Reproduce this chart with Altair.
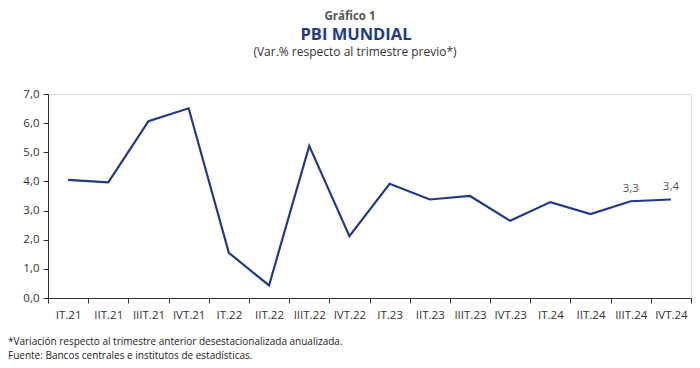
import altair as alt
import pandas as pd

quarters = ["IT.21", "IIT.21", "IIIT.21", "IVT.21", "IT.22", "IIT.22", "IIIT.22", "IVT.22",
            "IT.23", "IIT.23", "IIIT.23", "IVT.23", "IT.24", "IIT.24", "IIIT.24", "IVT.24"]
values = [4.05, 3.97, 6.07, 6.51, 1.55, 0.43, 5.22, 2.12,
          3.92, 3.38, 3.50, 2.65, 3.29, 2.88, 3.32, 3.38]
labels = ["", "", "", "", "", "", "", "", "", "", "", "", "", "", "3,3", "3,4"]
y_ticks = [0, 1, 2, 3, 4, 5, 6, 7]

df = pd.DataFrame({"q": quarters, "v": values, "lab": labels})

FONT = "Open Sans, sans-serif"
BLUE = "#1f3a8a"
W, H = 643, 204

xenc = alt.X("q:N", sort=quarters, title=None,
             scale=alt.Scale(type="band", paddingInner=0, paddingOuter=0),
             axis=alt.Axis(labelAngle=0, tickBand="extent", domainColor="#333333",
                           tickColor="#333333", tickSize=5, labelFontSize=11.5,
                           labelColor="#333333", labelPadding=6, labelFont=FONT,
                           labelOverlap=False))
yenc = alt.Y("v:Q", title=None,
             scale=alt.Scale(domain=[0, 7]),
             axis=alt.Axis(values=y_ticks, grid=False,
                           labelExpr="replace(format(datum.value, '.1f'), '.', ',')",
                           domainColor="#333333", tickColor="#333333", tickSize=5,
                           labelFontSize=11.5, labelColor="#333333", labelPadding=4,
                           labelFont=FONT, labelOverlap=False))

base = alt.Chart(df)
line = base.mark_line(color=BLUE, strokeWidth=2.2).encode(x=xenc, y=yenc)
txt = base.mark_text(dy=-12, fontSize=11.5, color="#555555", font=FONT).encode(
    x=xenc, y=yenc, text="lab:N")

cx = 350 - 48
t1 = alt.Chart(pd.DataFrame({"t": ["Gráfico 1"]})).mark_text(
    fontSize=11.5, fontWeight="bold", color="#555555", font=FONT, baseline="middle").encode(
    x=alt.value(cx), y=alt.value(17 - 94), text="t:N")
t2 = alt.Chart(pd.DataFrame({"t": ["PBI MUNDIAL"]})).mark_text(
    fontSize=16.5, fontWeight="bold", color=BLUE, font=FONT, baseline="middle").encode(
    x=alt.value(cx + 6), y=alt.value(35 - 94), text="t:N")
t3 = alt.Chart(pd.DataFrame({"t": ["(Var.% respecto al trimestre previo*)"]})).mark_text(
    fontSize=12, color="#333333", font=FONT, baseline="middle").encode(
    x=alt.value(cx + 5), y=alt.value(52 - 94), text="t:N")
f1 = alt.Chart(pd.DataFrame({"t": ["*Variación respecto al trimestre anterior desestacionalizada anualizada."]})).mark_text(
    fontSize=10, color="#222222", font=FONT, align="left", baseline="middle").encode(
    x=alt.value(8 - 48), y=alt.value(342 - 94), text="t:N")
f2 = alt.Chart(pd.DataFrame({"t": ["Fuente: Bancos centrales e institutos de estadísticas."]})).mark_text(
    fontSize=10, color="#222222", font=FONT, align="left", baseline="middle").encode(
    x=alt.value(8 - 48), y=alt.value(356 - 94), text="t:N")

chart = alt.layer(line, txt, t1, t2, t3, f1, f2).properties(
    width=W, height=H,
    autosize=alt.AutoSizeParams(type="none"),
    padding={"left": 40, "top": 86, "right": 1, "bottom": 68},
).configure_view(strokeWidth=0, stroke="transparent").configure(background="white")

chart.save("out.html", embed_options={"renderer": "svg", "actions": False})
